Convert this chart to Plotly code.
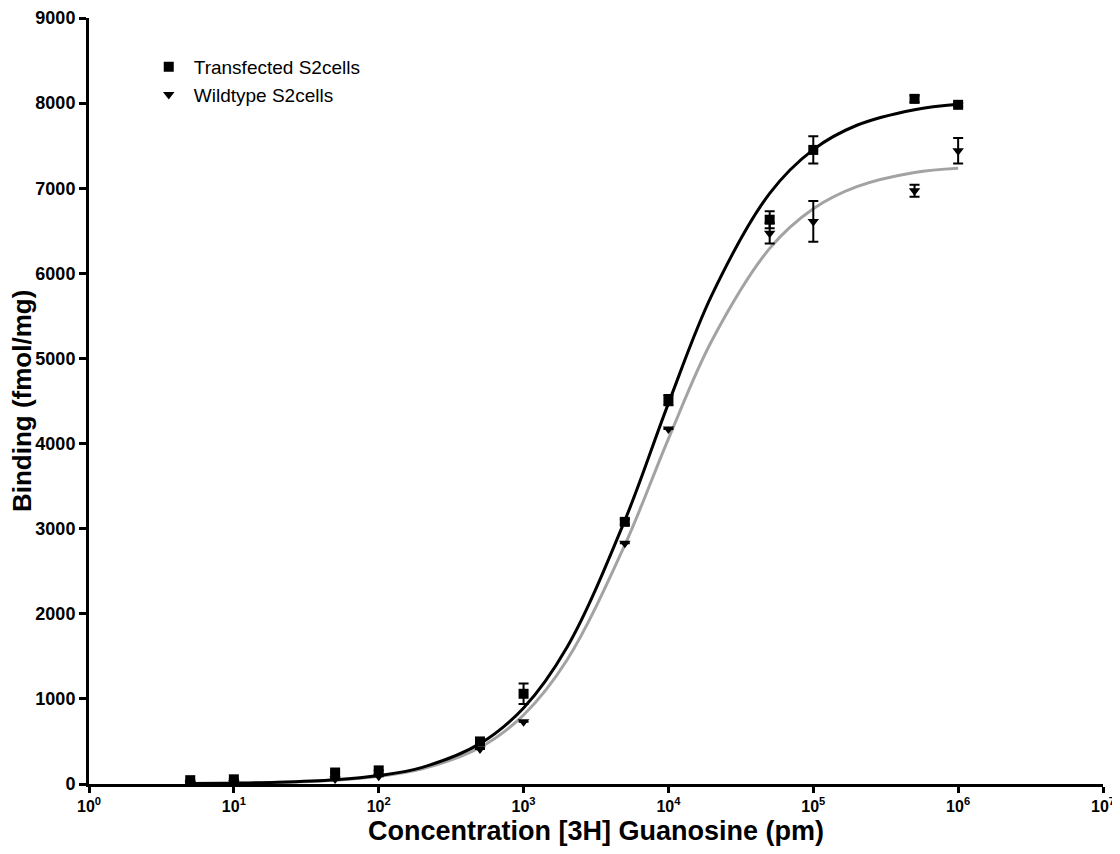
import plotly.graph_objects as go

# Concentrations (pm)
conc = [5, 10, 50, 100, 500, 1000, 5000, 10000, 50000, 100000, 500000, 1000000]

# Transfected S2 cells
trans_y = [45, 55, 135, 160, 500, 1060, 3080, 4510, 6630, 7450, 8050, 7980]
trans_err = [0, 0, 0, 0, 30, 120, 30, 60, 100, 160, 40, 20]

# Wildtype S2 cells
wild_y = [5, 15, 60, 90, 410, 730, 2830, 4170, 6470, 6610, 6970, 7440]
wild_err = [0, 0, 0, 0, 0, 0, 0, 0, 120, 240, 70, 150]

# Fitted curves
curve_x = [5, 10, 20, 50, 100, 200, 500, 1000, 2000, 5000, 10000, 20000,
           50000, 100000, 200000, 500000, 1000000]
trans_curve = [5, 10, 20, 50, 99, 196, 474, 894, 1610, 3096, 4472, 5750,
               6940, 7454, 7740, 7923, 7986]
wild_curve = [5, 9, 18, 45, 90, 178, 429, 811, 1460, 2808, 4056, 5214,
              6293, 6759, 7019, 7185, 7235]

x_tickvals = [1, 10, 100, 1000, 10000, 100000, 1000000, 10000000]
x_ticktext = ["10<sup>%d</sup>" % i for i in range(8)]
y_tickvals = [0, 1000, 2000, 3000, 4000, 5000, 6000, 7000, 8000, 9000]

x_title = "Concentration [3H] Guanosine (pm)"
y_title = "Binding (fmol/mg)"

FONT = "Liberation Sans, Arial, sans-serif"

fig = go.Figure()

fig.add_trace(go.Scatter(x=curve_x, y=wild_curve, mode="lines",
                         line=dict(color="#a3a3a3", width=3, shape="spline"),
                         showlegend=False, hoverinfo="skip"))
fig.add_trace(go.Scatter(x=curve_x, y=trans_curve, mode="lines",
                         line=dict(color="#000000", width=3, shape="spline"),
                         showlegend=False, hoverinfo="skip"))

fig.add_trace(go.Scatter(x=conc, y=trans_y, mode="markers", name="Transfected S2cells",
                         marker=dict(symbol="square", size=10, color="black"),
                         error_y=dict(type="data", array=trans_err, visible=True,
                                      color="black", thickness=2, width=5)))
fig.add_trace(go.Scatter(x=conc, y=wild_y, mode="markers", name="Wildtype S2cells",
                         marker=dict(symbol="triangle-down", size=10, color="black"),
                         error_y=dict(type="data", array=wild_err, visible=True,
                                      color="black", thickness=2, width=5)))

fig.update_layout(
    width=1112, height=838,
    margin=dict(l=81, r=17, t=10, b=62, autoexpand=False),
    plot_bgcolor="white", paper_bgcolor="white",
    font=dict(family=FONT, color="black"),
    legend=dict(x=0.054, y=0.961, xanchor="left", yanchor="top",
                font=dict(family=FONT, size=19, color="black"),
                bgcolor="rgba(0,0,0,0)", tracegroupgap=0, itemwidth=40),
    showlegend=True,
    annotations=[
        dict(text="<b>%s</b>" % x_title, xref="paper", yref="paper",
             x=0.5, y=-0.062, xanchor="center", yanchor="middle",
             showarrow=False, font=dict(family=FONT, size=27, color="black")),
        dict(text="<b>%s</b>" % y_title, xref="paper", yref="paper",
             x=-0.066, y=0.5, xanchor="center", yanchor="middle", textangle=-90,
             showarrow=False, font=dict(family=FONT, size=26, color="black")),
    ],
)

fig.update_xaxes(
    type="log", range=[0, 7], automargin=False,
    tickvals=x_tickvals, ticktext=x_ticktext,
    ticks="outside", ticklen=6, tickwidth=3, tickcolor="black",
    showline=True, linewidth=3, linecolor="black",
    showgrid=False, zeroline=False,
    tickfont=dict(family=FONT, size=16, color="black", weight="bold"),
)
fig.update_yaxes(
    range=[0, 9000], automargin=False,
    tickvals=y_tickvals,
    ticks="outside", ticklen=7, tickwidth=3, tickcolor="black",
    showline=True, linewidth=3, linecolor="black",
    showgrid=False, zeroline=False,
    tickfont=dict(family=FONT, size=18, color="black", weight="bold"),
)

fig.write_html("out.html")
